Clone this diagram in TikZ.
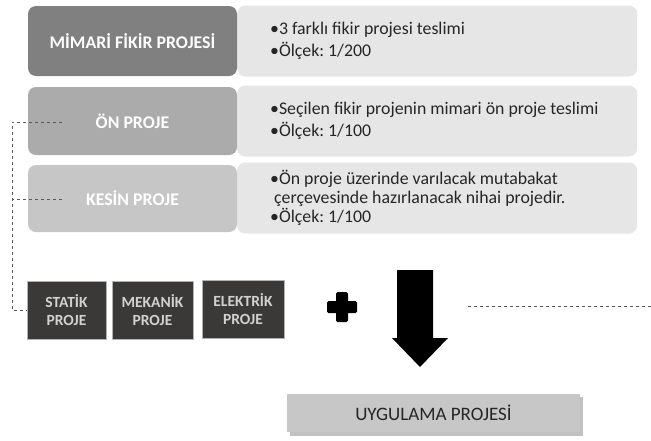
\documentclass[tikz,border=0pt]{standalone}
\usepackage{fontspec}
\setmainfont{Carlito}
\usetikzlibrary{positioning}
\definecolor{headA}{HTML}{808080}
\definecolor{headB}{HTML}{ABABAB}
\definecolor{headC}{HTML}{C6C6C6}
\definecolor{infobg}{HTML}{E7E6E6}
\definecolor{darkbox}{HTML}{3B3838}
\definecolor{txt}{HTML}{262626}
\definecolor{dashc}{HTML}{595959}
\tikzset{
	head/.style={rounded corners=8pt, minimum width=209pt, minimum height=70pt, text=white, font=\fontsize{17.8}{20}\selectfont\bfseries},
	info/.style={rounded corners=8pt, fill=infobg, minimum width=400pt, minimum height=71pt, anchor=west},
	infotxt/.style={inner sep=0pt, align=left, anchor=west, text=txt, font=\fontsize{17.8}{19}\selectfont\frenchspacing},
	sub/.style={fill=darkbox, draw=black!30, line width=0.6pt, minimum width=79pt, minimum height=58pt, align=center, text=black!18, font=\fontsize{15.5}{18}\selectfont\bfseries},
	link/.style={dashed, dashc, line width=0.6pt}
}
\begin{document}
\begin{tikzpicture}[x=1pt, y=-1pt, line join=round, >=stealth]
	\useasboundingbox (0,0) rectangle (651,440);
	% sol: asamalar
	\node[info] (fikirK) at (237,41) {};
	\node[info] (onK) at (237,121) {};
	\node[info] (kesinK) at (237,198) {};
	\node[infotxt, right=33pt of fikirK.west] (fikirT) {•3 farklı fikir projesi teslimi\\[3pt]•Ölçek: 1/200};
	\node[infotxt, right=33pt of onK.west] (onT) {•Seçilen fikir projenin mimari ön proje teslimi\\[3pt]•Ölçek: 1/100};
	\node[infotxt, right=33pt of kesinK.west] (kesinT) {•Ön proje üzerinde varılacak mutabakat\\\hspace*{4pt}çerçevesinde hazırlanacak nihai projedir.\\•Ölçek: 1/100};
	\node[head, fill=headA] (fikir) at (132.5,41) {MİMARİ FİKİR PROJESİ};
	\node[head, fill=headB, minimum height=68pt] (on) at (132.5,121) {ÖN PROJE};
	\node[head, fill=headC, minimum height=67pt] (kesin) at (132.5,198.5) {KESİN PROJE};
	% alt projeler
	\node[sub] (statik) at (66.5,310) {STATİK\\PROJE};
	\node[sub, minimum width=81pt] (mekanik) at (152.5,310) {MEKANİK\\PROJE};
	\node[sub, minimum width=82pt] (elektrik) at (243,309) {ELEKTRİK\\PROJE};
	% kesik cizgiler
	\coordinate (onE) at (62,122); \coordinate (kesinE) at (62,199);
	\coordinate (k1) at (12,122); \coordinate (k2) at (12,199); \coordinate (k3) at (12,310);
	\draw[link] (onE)--(k1)--(k3)--(statik.west);
	\draw[link] (kesinE)--(k2);
	% arti ve ok
	\fill[rounded corners=1.5pt] (336,292) rectangle (348,322) (327,301) rectangle (357,313);
	\fill (397,270)--(433,270)--(433,338)--(448,338)--(420,367)--(392,338)--(397,338)--cycle;
	\coordinate (okR) at (468,306); \coordinate (sagR) at (651,306);
	\draw[link] (okR)--(sagR);
	% uygulama
	\fill[black!35, opacity=0.7] (290,397) rectangle (583,436);
	\node[fill=black!22, minimum width=293pt, minimum height=38pt, text=txt, font=\fontsize{19}{20}\selectfont] (uyg) at (433.5,413) {UYGULAMA PROJESİ};
\end{tikzpicture}
\end{document}
